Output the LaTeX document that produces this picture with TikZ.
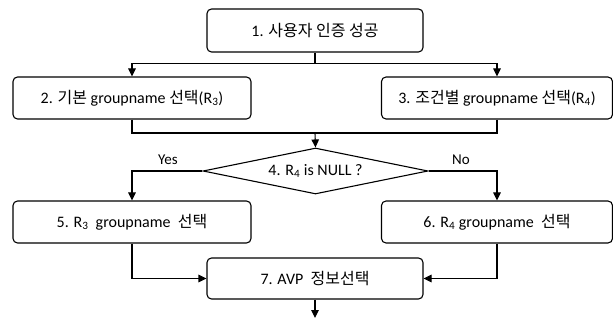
\documentclass[tikz,border=0pt]{standalone}
\usepackage{fontspec}
\setmainfont{Carlito}
\newfontfamily\kr{Noto Sans CJK KR}
\usetikzlibrary{shapes.geometric,arrows.meta}

\tikzset{
  flow/.style={draw=black, line width=1.1pt},
  stepbox/.style={flow, rectangle, rounded corners=4.5pt, inner sep=0pt,
    font=\fontsize{16}{18}\selectfont},
  decision/.style={flow, diamond, aspect=4.9, inner sep=0pt,
    minimum width=225pt, minimum height=46pt,
    font=\fontsize{16}{18}\selectfont},
  link/.style={flow, line join=miter},
  arrowlink/.style={link, -{Triangle[length=8pt,width=7.5pt]}},
  branch/.style={font=\fontsize{15}{17}\selectfont},
}

\begin{document}
\begin{tikzpicture}[x=1pt,y=-1pt]
  \useasboundingbox (0,0) rectangle (613,323);

  % process steps
  \node[stepbox, minimum width=216pt, minimum height=43pt] (s1) at (315,30.5)
    {1. {\kr 사용자 인증 성공}};
  \node[stepbox, minimum width=238pt, minimum height=42pt] (s2) at (132,98)
    {2. {\kr 기본} groupname {\kr 선택}(R\textsubscript{3})};
  \node[stepbox, minimum width=231pt, minimum height=42pt] (s3) at (497,98)
    {3. {\kr 조건별} groupname {\kr 선택}(R\textsubscript{4})};
  \node[decision] (s4) at (315.5,171)
    {4. R\textsubscript{4} is NULL ?};
  \node[stepbox, minimum width=238pt, minimum height=42pt] (s5) at (132,222)
    {5. R\textsubscript{3}\ \ groupname\ \ {\kr 선택}};
  \node[stepbox, minimum width=231pt, minimum height=42pt] (s6) at (497,222)
    {6. R\textsubscript{4} groupname\ \ {\kr 선택}};
  \node[stepbox, minimum width=216pt, minimum height=41pt] (s7) at (315,278.5)
    {7. AVP\ \ {\kr 정보선택}};

  % junction points and free end
  \coordinate (split) at (315,63.5);
  \coordinate (merge) at (315,133);
  \coordinate (out) at (315,318);

  % fan out after step 1
  \draw[link] (s1.south) -- (split);
  \draw[arrowlink] (split) -| (s2.north);
  \draw[arrowlink] (split) -| (s3.north);

  % join steps 2 and 3 into the decision
  \draw[link] (s2.south) |- (merge);
  \draw[link] (s3.south) |- (merge);
  \draw[arrowlink] (merge) -- (s4.north);

  % decision branches
  \draw[arrowlink] (s4.west) -| (s5.north);
  \draw[arrowlink] (s4.east) -| (s6.north);
  \node[branch] (yes) at (168,160) {Yes};
  \node[branch] (no) at (461,160) {No};

  % both branches lead to step 7
  \draw[arrowlink] (s5.south) |- (s7.west);
  \draw[arrowlink] (s6.south) |- (s7.east);
  \draw[arrowlink] (s7.south) -- (out);
\end{tikzpicture}
\end{document}
